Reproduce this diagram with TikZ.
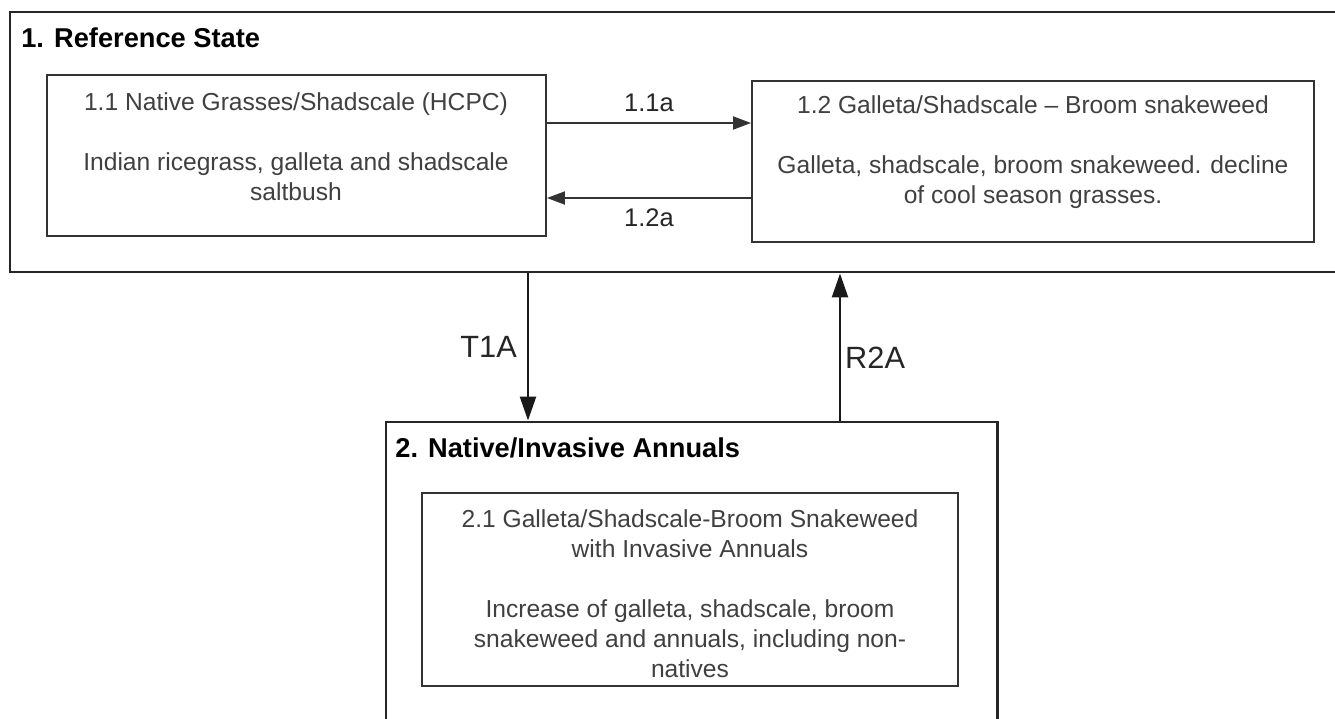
\documentclass[tikz,border=0pt]{standalone}
\usepackage{fontspec}
\setmainfont{Liberation Sans}
\usetikzlibrary{arrows.meta,positioning,fit}

\begin{document}
\begin{tikzpicture}[x=0.2mm,y=-0.2mm,
  st/.style={draw=black!85,line width=1.7pt,inner sep=0pt},
  ph/.style={draw=black!80,line width=1.1pt,inner sep=0pt},
  ttl/.style={font=\fontsize{15.5}{18}\selectfont\bfseries,anchor=west,inner sep=0pt},
  tx/.style={font=\fontsize{14}{17}\selectfont,text=black!75,align=center,anchor=north,inner sep=0pt},
  lb/.style={font=\fontsize{14.5}{17}\selectfont,text=black!85,inner sep=0pt},
  big/.style={font=\fontsize{17.5}{20}\selectfont,text=black!85,inner sep=0pt},
  ha/.style={draw=black!80,line width=1.1pt,-{Triangle[length=3.6mm,width=2.6mm]}},
  va/.style={draw=black!90,line width=1.4pt,-{Triangle[length=4.8mm,width=3.2mm]}}]
\clip (0,0) rectangle (1335,718);
\fill[white] (0,0) rectangle (1335,718);
% ---- 1. Reference State ----
\node[st,fit={(10,12) (1360,272)}] (s1) {};
\node[ttl] (s1ttl) at (21,38) {1. Reference State};
\node[ph,fit={(47,75) (546,236)}] (p11) {};
\node[tx] (p11txt) at (296,92) {1.1 Native Grasses/Shadscale (HCPC)\\[17.5pt]Indian ricegrass, galleta and shadscale\\saltbush};
\node[ph,fit={(752,81) (1314,242)}] (p12) {};
\node[tx] (p12txt) at (1033,95) {1.2 Galleta/Shadscale -- Broom snakeweed\\[17.5pt]Galleta, shadscale, broom snakeweed. decline\\of cool season grasses.};
% pathways inside state 1
\coordinate (h1) at (649,123);
\coordinate (h2) at (649,198);
\draw[ha] (p11.east |- h1) -- node[lb,above=2mm] (l11a) {1.1a} (p12.west |- h1);
\draw[ha] (p12.west |- h2) -- node[lb,below=2mm] (l12a) {1.2a} (p11.east |- h2);
% ---- 2. Native/Invasive Annuals ----
\node[st,fit={(386,422) (997,740)}] (s2) {};
\node[ttl] (s2ttl) at (395,448) {2. Native/Invasive Annuals};
\node[ph,fit={(422,493) (958,686)}] (p21) {};
\node[tx] (p21txt) at (690,509) {2.1 Galleta/Shadscale-Broom Snakeweed\\with Invasive Annuals\\[17.5pt]Increase of galleta, shadscale, broom\\snakeweed and annuals, including non-\\natives};
% transition and restoration
\coordinate (vt) at (528,347);
\coordinate (vr) at (840,347);
\draw[va] (s1.south -| vt) -- node[big,left=2mm] (t1a) {T1A} (s2.north -| vt);
\draw[va] (s2.north -| vr) -- node[big,right=0.8mm,yshift=-2.2mm] (r2a) {R2A} (s1.south -| vr);
\end{tikzpicture}
\end{document}
